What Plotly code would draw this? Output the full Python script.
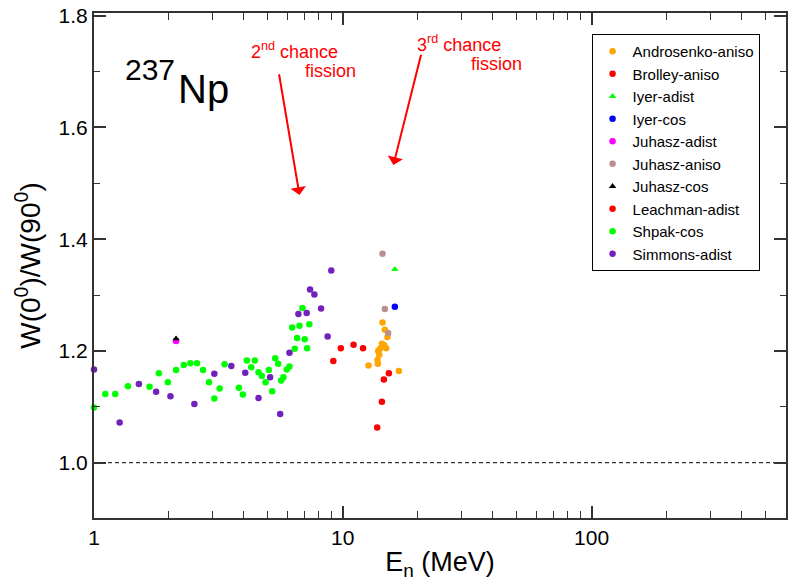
import numpy as np
import plotly.graph_objects as go

# ---------------- data ----------------
androsenko_E = [14.44, 14.76, 15.12, 14.36, 14.67, 14.94, 14.10, 13.88, 14.01, 13.79, 13.84, 12.69, 16.80]
androsenko_W = [1.251, 1.238, 1.225, 1.213, 1.210, 1.205, 1.204, 1.200, 1.193, 1.184, 1.177, 1.174, 1.164]

brolley_E = [15.32, 14.63, 14.36, 13.75]
brolley_W = [1.160, 1.149, 1.109, 1.063]

iyer_adist_E = [16.19]
iyer_adist_W = [1.346]

iyer_cos_E = [16.19]
iyer_cos_W = [1.279]

juhasz_adist_E = [2.137]
juhasz_adist_W = [1.218]

juhasz_aniso_E = [14.44, 14.76, 15.22]
juhasz_aniso_W = [1.374, 1.275, 1.232]

juhasz_cos_E = [2.137]
juhasz_cos_W = [1.222]

leachman_E = [9.16, 9.82, 11.05, 12.06]
leachman_W = [1.182, 1.205, 1.211, 1.205]

shpak_E = [1.0, 1.11, 1.217, 1.369, 1.672, 1.822, 1.980, 2.137, 2.295, 2.441,
           2.594, 2.743, 2.899, 3.046, 3.199, 3.350, 3.823, 3.967, 4.116, 4.286,
           4.43, 4.585, 4.727, 4.891, 5.042, 5.203, 5.35, 5.50, 5.655, 5.776,
           5.954, 6.105, 6.41, 6.553, 6.262, 6.696, 6.884, 7.339, 7.031, 7.189]
shpak_W = [1.099, 1.123, 1.123, 1.137, 1.136, 1.160, 1.144, 1.166, 1.175, 1.178,
           1.178, 1.166, 1.144, 1.115, 1.133, 1.176, 1.134, 1.122, 1.183, 1.171,
           1.183, 1.162, 1.155, 1.144, 1.166, 1.128, 1.187, 1.177, 1.147, 1.153,
           1.167, 1.172, 1.204, 1.223, 1.242, 1.245, 1.277, 1.248, 1.221, 1.205]

simmons_E = [1.0, 1.268, 1.515, 1.777, 2.029, 2.532, 3.046, 3.564, 4.055, 4.585,
             5.104, 5.602, 6.105, 6.632, 7.16, 7.388, 7.687, 8.178, 8.69, 8.99]
simmons_W = [1.167, 1.072, 1.141, 1.127, 1.119, 1.105, 1.159, 1.173, 1.161, 1.116,
             1.153, 1.087, 1.197, 1.266, 1.268, 1.310, 1.301, 1.276, 1.226, 1.344]

x_ticks = [1, 10, 100]
x_ticktext = ["1", "10", "100"]
y_ticks = [1.0, 1.2, 1.4, 1.6, 1.8]

# ---------------- figure ----------------
FONT = "Liberation Sans, Arial, Helvetica, sans-serif"

series = [
    ("Androsenko-aniso", androsenko_E, androsenko_W, "#FFA500", "circle"),
    ("Brolley-aniso", brolley_E, brolley_W, "#FF0000", "circle"),
    ("Iyer-adist", iyer_adist_E, iyer_adist_W, "#00FF00", "triangle-up"),
    ("Iyer-cos", iyer_cos_E, iyer_cos_W, "#0000FF", "circle"),
    ("Juhasz-adist", juhasz_adist_E, juhasz_adist_W, "#FF00FF", "circle"),
    ("Juhasz-aniso", juhasz_aniso_E, juhasz_aniso_W, "#BC8F8F", "circle"),
    ("Juhasz-cos", juhasz_cos_E, juhasz_cos_W, "#000000", "triangle-up"),
    ("Leachman-adist", leachman_E, leachman_W, "#FF0000", "circle"),
    ("Shpak-cos", shpak_E, shpak_W, "#00FF00", "circle"),
    ("Simmons-adist", simmons_E, simmons_W, "#7221BC", "circle"),
]

fig = go.Figure()
for name, xs, ys, col, sym in series:
    fig.add_trace(go.Scatter(
        x=xs, y=ys, mode="markers", name=name, cliponaxis=False,
        marker=dict(color=col, symbol=sym, size=6.5, line=dict(width=0)),
    ))

W, H = 788, 582
L, R, T, B = 94, 0, 13, 64
pw, ph = W - L - R, H - T - B


def px(xp):
    return (xp - L) / pw


def py(yp):
    return (H - B - yp) / ph


annots = []
# isotope label
annots.append(dict(text="237", x=px(123), y=py(69.5), xref="paper", yref="paper",
                   xanchor="left", yanchor="middle", showarrow=False,
                   font=dict(size=30, color="black", family=FONT)))
annots.append(dict(text="Np", x=px(176), y=py(89), xref="paper", yref="paper",
                   xanchor="left", yanchor="middle", showarrow=False,
                   font=dict(size=40, color="black", family=FONT)))
# red labels
red = "#FF0000"
for txt, xl, yc in [("2<sup>nd</sup> chance", 249, 50.7), ("fission", 304, 70.7),
                    ("3<sup>rd</sup> chance", 416, 43.7), ("fission", 470, 63.7)]:
    annots.append(dict(text=txt, x=px(xl), y=py(yc), xref="paper", yref="paper",
                       xanchor="left", yanchor="middle", showarrow=False,
                       font=dict(size=18, color=red, family=FONT)))
# arrows
for hx, hy, ax, ay in [(6.70, 1.479, -20.7, -122.3), (15.98, 1.533, 28.0, -111.7)]:
    annots.append(dict(text="", x=np.log10(hx), y=hy, xref="x", yref="y",
                       showarrow=True, ax=ax, ay=ay, axref="pixel", ayref="pixel",
                       arrowhead=1, arrowsize=1.3, arrowwidth=2, arrowcolor=red, standoff=0))

fig.update_layout(
    width=W, height=H,
    margin=dict(l=L, r=R, t=T, b=B),
    paper_bgcolor="white", plot_bgcolor="white",
    font=dict(family=FONT, color="black"),
    showlegend=True,
    legend=dict(x=px(593), y=py(34), xanchor="left", yanchor="top",
                bordercolor="black", borderwidth=1, bgcolor="white",
                font=dict(size=15, family=FONT, color="black"),
                itemsizing="trace", tracegroupgap=0),
    annotations=annots,
    shapes=[dict(type="line", xref="paper", x0=0, x1=1, yref="y", y0=1.0, y1=1.0,
                 line=dict(color="black", width=1, dash="4px,3px"), layer="below")],
)

fig.update_xaxes(
    type="log", range=[0, pw / 249.5],
    tickmode="array", tickvals=x_ticks, ticktext=x_ticktext,
    ticks="inside", ticklen=12, tickwidth=1.5, tickcolor="#333",
    showline=True, linecolor="#333", linewidth=2, mirror="ticks",
    showgrid=False, zeroline=False,
    tickfont=dict(size=21, family=FONT, color="black"),
    minor=dict(ticks="inside", ticklen=7, tickwidth=1, tickcolor="#333",
               tickmode="array",
               tickvals=[2, 3, 4, 5, 6, 7, 8, 9, 20, 30, 40, 50, 60, 70, 80, 90,
                         200, 300, 400, 500, 600],
               showgrid=False),
    title=dict(text="E<sub>n</sub> (MeV)", font=dict(size=27, family=FONT, color="black"),
               standoff=4),
)

fig.update_yaxes(
    range=[1.0 - (518 - 462.7) / 558.75, 1.0 + (462.7 - 13) / 558.75],
    tickmode="array", tickvals=y_ticks, ticktext=[f"{v:.1f}" for v in y_ticks],
    ticks="inside", ticklen=12, tickwidth=1.5, tickcolor="#333",
    showline=True, linecolor="#333", linewidth=2, mirror="ticks",
    showgrid=False, zeroline=False,
    tickfont=dict(size=21, family=FONT, color="black"),
    minor=dict(ticks="inside", ticklen=6, tickwidth=1, tickcolor="#333",
               tickmode="array", tickvals=[0.9, 1.1, 1.3, 1.5, 1.7], showgrid=False),
    title=dict(text="W(0<sup>0</sup>)/W(90<sup>0</sup>)",
               font=dict(size=28, family=FONT, color="black"), standoff=10),
)

fig.write_html("out.html")
